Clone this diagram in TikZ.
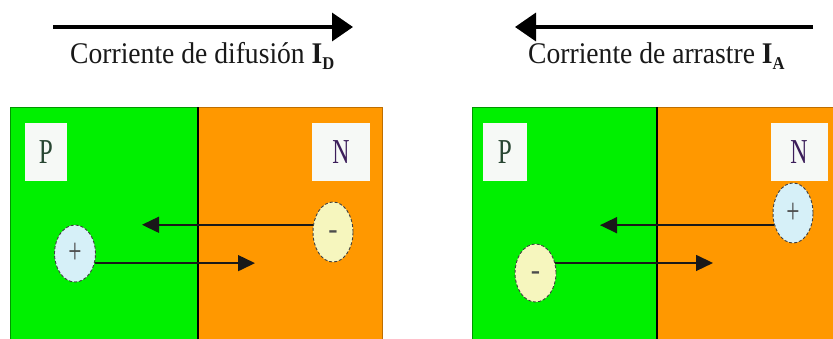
\documentclass[tikz,border=0pt]{standalone}
\usepackage{fontspec}
\usepackage{graphicx}
\setmainfont{Liberation Serif}
\usetikzlibrary{arrows.meta,shapes.geometric}
\definecolor{pgreen}{RGB}{0,240,0}
\definecolor{pgreenD}{RGB}{0,150,0}
\definecolor{norange}{RGB}{255,152,0}
\definecolor{norangeD}{RGB}{190,110,0}
\definecolor{holefill}{RGB}{214,240,248}
\definecolor{elecfill}{RGB}{246,246,190}
\definecolor{plabel}{RGB}{40,70,50}
\definecolor{nlabel}{RGB}{60,30,90}
\definecolor{boxfill}{RGB}{246,249,246}
\begin{document}
\begin{tikzpicture}[x=1pt,y=-1pt,
  regionbox/.style={rectangle, anchor=north west, inner sep=0pt, line width=0.8pt},
  labelbox/.style={rectangle, fill=boxfill, inner sep=0pt, minimum width=42pt, minimum height=58pt,
    font=\fontsize{35}{35}\selectfont},
  carrier/.style={ellipse, inner sep=0pt, minimum width=41pt, minimum height=58pt,
    draw=black!75, densely dashed, line width=0.9pt, text=black!70},
  bigarrow/.style={line width=3.5pt, -{Triangle[length=21pt,width=28pt]}},
  smallarrow/.style={line width=1.5pt, black!90, -{Triangle[length=17pt,width=16pt]}},
  titletext/.style={anchor=base west, inner sep=0pt, font=\fontsize{30}{30}\selectfont, text=black!90},
  plusmark/.style={font=\fontsize{36}{36}\selectfont},
  minusmark/.style={font=\fontsize{28}{28}\selectfont\bfseries}
]
\useasboundingbox (0,0) rectangle (833,338);
\fill[white] (0,0) rectangle (833,338);

% ---------- left panel (diffusion) ----------
\coordinate (la0) at (53,27);
\coordinate (la1) at (353,27);
\draw[bigarrow] (la0) -- (la1);
\node[titletext] (ltitle) at (70,63) {\scalebox{0.92}[1]{Corriente de difusión \textbf{I}\raisebox{-6pt}{\fontsize{18}{18}\selectfont\textbf{D}}}};

\node[regionbox, fill=pgreen, draw=pgreenD, minimum width=188pt, minimum height=245pt] (lP) at (10,107) {};
\node[regionbox, fill=norange, draw=norangeD, minimum width=184pt, minimum height=245pt] (lN) at (198,107) {};
\draw[line width=1.4pt] (lN.north west) -- (lN.south west);

\node[labelbox] (lPlab) at (46,152) {\textcolor{plabel}{\scalebox{0.72}[1]{P}}};
\node[labelbox, minimum width=58pt] (lNlab) at (341,152) {\textcolor{nlabel}{\scalebox{0.68}[1]{N}}};

\node[carrier, fill=holefill, minimum width=41pt, minimum height=57pt, plusmark] (lh) at (75,253.5) {\scalebox{0.65}[1]{+}};
\node[carrier, fill=elecfill, minimum width=40pt, minimum height=60pt, minusmark] (le) at (333,232) {\raisebox{-12pt}{-}};

\coordinate (lt1) at (142,225);
\coordinate (lt2) at (255,263);
\draw[smallarrow] (le.160) -- (le.160 -| lt1);
\draw[smallarrow] (lh.-26) -- (lh.-26 -| lt2);

% ---------- right panel (drift) ----------
\coordinate (ra0) at (813,27);
\coordinate (ra1) at (515,27);
\draw[bigarrow] (ra0) -- (ra1);
\node[titletext] (rtitle) at (528,63) {\scalebox{0.92}[1]{Corriente de arrastre \textbf{I}\raisebox{-6pt}{\fontsize{18}{18}\selectfont\textbf{A}}}};

\node[regionbox, fill=pgreen, draw=pgreenD, minimum width=185pt, minimum height=245pt] (rP) at (472,107) {};
\node[regionbox, fill=norange, draw=norangeD, minimum width=190pt, minimum height=245pt] (rN) at (657,107) {};
\draw[line width=1.4pt] (rN.north west) -- (rN.south west);

\node[labelbox, minimum width=44pt] (rPlab) at (505,152) {\textcolor{plabel}{\scalebox{0.72}[1]{P}}};
\node[labelbox, minimum width=57pt] (rNlab) at (799,152) {\textcolor{nlabel}{\scalebox{0.68}[1]{N}}};

\node[carrier, fill=holefill, minimum width=40pt, minimum height=60pt, plusmark] (rh) at (793,213) {\scalebox{0.65}[1]{+}};
\node[carrier, fill=elecfill, minimum width=41pt, minimum height=58pt, minusmark] (re) at (535.5,273) {\raisebox{-12pt}{-}};

\coordinate (rt1) at (600,225);
\coordinate (rt2) at (713,263);
\draw[smallarrow] (rh.213) -- (rh.213 -| rt1);
\draw[smallarrow] (re.27.5) -- (re.27.5 -| rt2);
\end{tikzpicture}
\end{document}
